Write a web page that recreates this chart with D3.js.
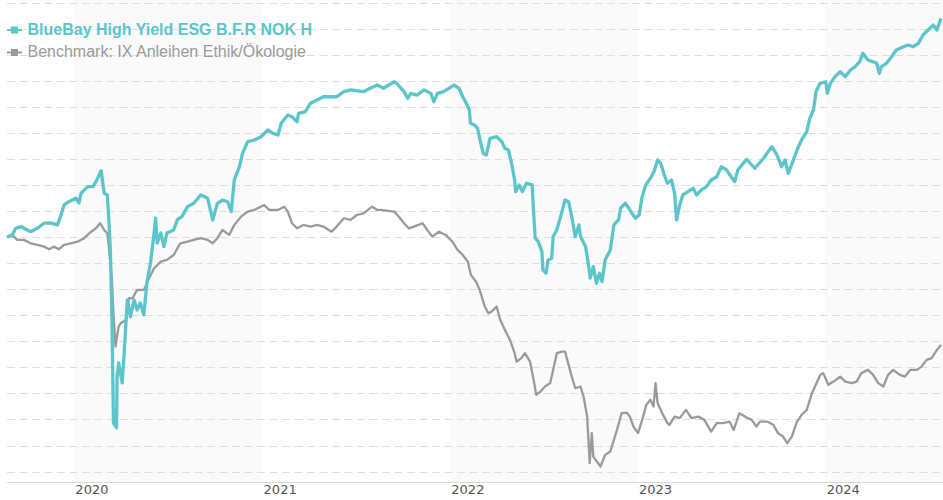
<!DOCTYPE html>
<html lang="de">
<head>
<meta charset="UTF-8">
<title>BlueBay High Yield ESG B.F.R NOK H</title>
<script src="https://d3js.org/d3.v7.min.js"></script>
<style>
  html, body { margin: 0; padding: 0; background: #fff; }
  svg { display: block; }
</style>
</head>
<body>
<svg id="chart" width="943" height="500"></svg>
<script>
// Wertentwicklung in % seit Start
var fundName = 'BlueBay High Yield ESG B.F.R NOK H';
var benchName = 'Benchmark: IX Anleihen Ethik/Ökologie';

var fundDates = [
"2019-08-24","2019-09-03","2019-09-10","2019-09-20","2019-09-29","2019-10-09","2019-10-22","2019-11-04","2019-11-17","2019-11-30",
"2019-12-06","2019-12-13","2019-12-22","2020-01-05","2020-01-11","2020-01-15","2020-01-28","2020-02-07","2020-02-13","2020-02-23",
"2020-02-29","2020-03-06","2020-03-09","2020-03-12","2020-03-15","2020-03-18","2020-03-24","2020-03-25","2020-03-28","2020-04-04",
"2020-04-07","2020-04-14","2020-04-20","2020-04-27","2020-05-03","2020-05-09","2020-05-16","2020-05-22","2020-05-29","2020-06-05",
"2020-06-08","2020-06-11","2020-06-18","2020-06-24","2020-06-30","2020-07-13","2020-07-20","2020-07-29","2020-08-09","2020-08-21",
"2020-09-04","2020-09-17","2020-09-27","2020-10-06","2020-10-16","2020-10-26","2020-11-02","2020-11-08","2020-11-18","2020-11-24",
"2020-12-04","2020-12-17","2020-12-30","2021-01-12","2021-01-22","2021-02-01","2021-02-07","2021-02-20","2021-02-28","2021-03-10",
"2021-03-13","2021-03-26","2021-04-05","2021-04-18","2021-04-30","2021-05-26","2021-06-09","2021-06-22","2021-07-17","2021-07-30",
"2021-08-13","2021-08-25","2021-09-15","2021-09-21","2021-10-04","2021-10-11","2021-10-17","2021-10-29","2021-11-12","2021-11-25",
"2021-12-01","2021-12-08","2021-12-20","2022-01-09","2022-01-19","2022-01-26","2022-02-02","2022-02-08","2022-02-10","2022-02-18",
"2022-02-24","2022-02-28","2022-03-07","2022-03-13","2022-03-20","2022-04-02","2022-04-12","2022-04-18","2022-04-25","2022-05-01",
"2022-05-07","2022-05-09","2022-05-16","2022-05-22","2022-05-30","2022-06-10","2022-06-13","2022-06-16","2022-06-22","2022-06-29",
"2022-07-01","2022-07-07","2022-07-11","2022-07-18","2022-07-21","2022-07-28","2022-08-07","2022-08-13","2022-08-20","2022-08-26",
"2022-09-02","2022-09-09","2022-09-12","2022-09-22","2022-09-28","2022-10-01","2022-10-07","2022-10-13","2022-10-19","2022-10-24",
"2022-10-30","2022-11-09","2022-11-16","2022-11-25","2022-11-29","2022-12-08","2022-12-15","2022-12-21","2022-12-28","2023-01-04",
"2023-01-10","2023-01-17","2023-01-26","2023-02-02","2023-02-09","2023-02-15","2023-02-22","2023-02-28","2023-03-08","2023-03-14",
"2023-03-18","2023-03-24","2023-03-30","2023-04-09","2023-04-19","2023-04-26","2023-05-05","2023-05-15","2023-05-24","2023-06-04",
"2023-06-13","2023-06-23","2023-07-02","2023-07-09","2023-07-15","2023-08-01","2023-08-17","2023-09-03","2023-09-19","2023-09-29",
"2023-10-08","2023-10-15","2023-10-21","2023-10-31","2023-11-07","2023-11-16","2023-11-26","2023-12-02","2023-12-09","2023-12-14",
"2023-12-22","2024-01-02","2024-01-05","2024-01-11","2024-01-20","2024-01-30","2024-02-09","2024-02-19","2024-02-28","2024-03-08",
"2024-03-14","2024-03-24","2024-04-03","2024-04-10","2024-04-15","2024-04-19","2024-04-29","2024-05-09","2024-05-18","2024-06-01",
"2024-06-10","2024-06-20","2024-06-30","2024-07-09","2024-07-19","2024-07-29","2024-08-05","2024-08-13"];

var fundValues = [
0, 0.17, 0.68, 0.81, 0.63, 0.42, 0.68, 1.07, 1.09, 0.94,
1.57, 2.47, 2.72, 2.99, 2.62, 3.37, 3.88, 3.88, 4.26, 5.10,
3.37, 3.24, 1.32, -0.98, -6.10, -14.26, -14.64, -10.71, -9.65, -11.19,
-9.42, -4.82, -6.10, -4.82, -5.59, -5.05, -5.97, -3.51, -1.98, 0.32,
1.45, -0.45, 0.32, -0.73, 0.32, 0.55, 1.32, 1.57, 2.34, 2.60,
3.24, 2.99, 1.32, 2.60, 2.85, 2.72, 1.96, 4.39, 5.41, 6.44,
7.33, 7.46, 7.71, 8.23, 7.97, 7.84, 8.74, 9.38, 9.25, 8.86,
9.51, 9.63, 10.28, 10.53, 10.78, 10.78, 11.17, 11.30, 11.17, 11.43,
11.68, 11.43, 11.93, 11.76, 11.17, 10.66, 11.04, 10.91, 11.30, 11.04,
10.40, 11.04, 11.17, 11.68, 11.43, 10.78, 10.28, 9.76, 8.74, 8.61,
8.36, 7.59, 6.44, 6.31, 7.59, 7.71, 7.33, 6.82, 6.69, 5.67,
4.39, 3.49, 4.01, 3.49, 4.14, 4.01, 1.83, -0.08, -0.35, -1.11,
-2.52, -2.77, -1.75, -1.62, 0.04, 0.55, 1.96, 2.85, 2.72, 1.57,
0.04, 0.94, 0.04, -0.73, -2.26, -3.15, -2.26, -3.54, -2.77, -3.42,
-1.75, -0.98, 0.94, 1.32, 2.22, 2.60, 2.22, 1.83, 1.45, 1.70,
3.11, 4.01, 4.52, 5.03, 5.92, 5.67, 4.77, 4.14, 4.39, 3.37,
1.32, 2.47, 3.24, 3.49, 3.75, 3.24, 3.62, 3.88, 4.39, 4.64,
5.41, 5.16, 4.64, 4.26, 5.16, 5.98, 5.29, 6.06, 6.95, 6.31,
5.41, 5.92, 4.90, 5.92, 6.69, 7.46, 8.10, 9.13, 9.76, 11.17,
11.81, 11.93, 11.04, 11.81, 12.32, 12.70, 12.32, 12.83, 13.09, 13.47,
14.11, 13.60, 13.47, 13.35, 12.58, 13.09, 13.35, 13.85, 14.37, 14.62,
14.75, 14.62, 14.88, 15.52, 15.90, 16.28, 15.90, 16.80];

var benchDates = [
"2019-08-24","2019-09-03","2019-09-13","2019-09-26","2019-10-09","2019-10-22","2019-11-04","2019-11-14","2019-11-23","2019-12-03",
"2019-12-13","2019-12-26","2020-01-08","2020-01-21","2020-01-31","2020-02-13","2020-02-21","2020-02-29","2020-03-06","2020-03-09",
"2020-03-15","2020-03-18","2020-03-22","2020-03-28","2020-04-01","2020-04-11","2020-04-17","2020-04-24","2020-05-03","2020-05-16",
"2020-05-25","2020-06-05","2020-06-18","2020-06-30","2020-07-13","2020-07-26","2020-08-09","2020-08-21","2020-09-04","2020-09-17",
"2020-09-27","2020-10-06","2020-10-16","2020-10-29","2020-11-08","2020-11-21","2020-12-04","2020-12-17","2021-01-05","2021-01-15",
"2021-02-01","2021-02-13","2021-02-20","2021-02-28","2021-03-10","2021-03-22","2021-04-05","2021-04-18","2021-04-30","2021-05-16",
"2021-05-26","2021-06-09","2021-06-22","2021-07-04","2021-07-17","2021-08-03","2021-08-13","2021-08-19","2021-09-15","2021-09-24",
"2021-10-04","2021-10-13","2021-10-23","2021-11-09","2021-11-18","2021-11-28","2021-12-11","2021-12-24","2022-01-06","2022-01-16",
"2022-01-26","2022-02-05","2022-02-11","2022-02-21","2022-02-28","2022-03-10","2022-03-17","2022-03-23","2022-04-02","2022-04-09",
"2022-04-18","2022-04-28","2022-05-07","2022-05-11","2022-05-20","2022-05-27","2022-06-06","2022-06-13","2022-06-18","2022-06-26",
"2022-07-05","2022-07-15","2022-07-21","2022-07-28","2022-08-07","2022-08-13","2022-08-20","2022-08-26","2022-09-02","2022-09-12",
"2022-09-18","2022-09-25","2022-09-30","2022-10-04","2022-10-07","2022-10-14","2022-10-21","2022-10-30","2022-11-09","2022-11-16",
"2022-11-22","2022-12-01","2022-12-11","2022-12-17","2022-12-24","2023-01-02","2023-01-10","2023-01-18","2023-01-26","2023-02-01",
"2023-02-05","2023-02-09","2023-02-18","2023-02-28","2023-03-04","2023-03-14","2023-03-24","2023-04-05","2023-04-16","2023-04-29",
"2023-05-11","2023-05-24","2023-06-04","2023-06-16","2023-06-29","2023-07-07","2023-07-18","2023-08-01","2023-08-11","2023-08-20",
"2023-08-27","2023-09-10","2023-09-22","2023-10-01","2023-10-11","2023-10-19","2023-10-28","2023-11-07","2023-11-16","2023-11-26",
"2023-12-06","2023-12-12","2023-12-22","2023-12-28","2024-01-07","2024-01-17","2024-01-30","2024-02-09","2024-02-22","2024-03-02",
"2024-03-11","2024-03-24","2024-04-03","2024-04-13","2024-04-23","2024-05-02","2024-05-12","2024-05-25","2024-06-04","2024-06-14",
"2024-06-27","2024-07-06","2024-07-16","2024-07-26","2024-08-05","2024-08-13"];

var benchValues = [
0, 0.17, -0.21, -0.21, -0.47, -0.60, -0.73, -0.93, -0.73, -0.93,
-0.60, -0.47, -0.35, -0.08, 0.30, 0.68, 1.07, 0.55, 0.30, -0.73,
-3.28, -5.84, -8.40, -6.87, -6.61, -6.35, -4.69, -4.69, -4.05, -4.05,
-3.28, -2.39, -1.88, -1.75, -1.37, -0.47, -0.35, -0.21, -0.08, -0.21,
-0.47, -0.08, 0.55, 0.17, 0.94, 1.57, 1.96, 2.09, 2.47, 2.09,
2.09, 2.34, 1.96, 1.07, 0.68, 0.94, 0.81, 0.94, 0.81, 0.42,
0.81, 1.45, 1.32, 1.70, 1.83, 2.34, 2.09, 2.09, 1.96, 1.57,
1.07, 0.68, 0.81, 1.07, 0.55, 0.04, 0.42, 0.17, -0.35, -0.98,
-1.37, -1.88, -2.90, -3.42, -4.05, -5.33, -5.84, -5.72, -5.33, -6.35,
-7.12, -7.89, -8.91, -9.56, -9.29, -8.91, -9.56, -10.96, -12.11, -11.86,
-11.47, -11.21, -10.19, -8.91, -8.79, -8.79, -9.81, -10.71, -11.60, -11.47,
-12.24, -13.78, -17.35, -15.05, -16.85, -17.23, -17.61, -16.72, -16.46, -15.56,
-14.80, -13.52, -13.47, -13.78, -14.54, -15.05, -14.03, -12.88, -12.49, -13.01,
-11.21, -12.75, -13.52, -14.28, -14.41, -13.78, -13.90, -13.26, -13.90, -13.78,
-14.03, -14.93, -14.28, -14.28, -14.16, -14.80, -13.52, -13.85, -14.03, -14.54,
-14.16, -14.16, -14.41, -15.05, -15.31, -15.82, -15.31, -14.16, -13.64, -13.26,
-11.98, -11.47, -10.58, -10.44, -11.34, -11.09, -10.71, -11.09, -11.21, -11.09,
-10.44, -10.19, -10.58, -11.21, -11.47, -10.58, -10.19, -10.58, -10.71, -10.19,
-10.19, -9.94, -9.42, -9.29, -8.66, -8.27];

var years = ['2020', '2021', '2022', '2023', '2024'];
var shadedYears = ['2020', '2022', '2024'];
var gridValues = d3.range(-18, 18.01, 2);

var width = 943;
var height = 500;
var plot = {left: 7, right: 943, top: 2.7, bottom: 482};

var fundColor = '#5cc5cc';
var benchColor = '#9a9a9a';

var parse = d3.timeParse('%Y-%m-%d');
var fund = fundDates.map(function (d, i) { return {date: parse(d), value: fundValues[i]}; });
var bench = benchDates.map(function (d, i) { return {date: parse(d), value: benchValues[i]}; });

var x = d3.scaleTime()
    .domain([parse('2019-08-24'), parse('2024-08-13')])
    .range([plot.left, 941]);

var y = d3.scaleLinear()
    .domain([-18.8, 18])
    .range([plot.bottom, plot.top]);

var svg = d3.select('#chart');

// Jahresbaender
svg.append('g').selectAll('rect')
    .data(shadedYears)
    .enter()
    .append('rect')
    .attr('x', function (d) { return x(parse(d + '-01-01')); })
    .attr('y', 0)
    .attr('width', function (d) {
        var x0 = x(parse(d + '-01-01'));
        var x1 = Math.min(x(parse((+d + 1) + '-01-01')), plot.right);
        return x1 - x0;
    })
    .attr('height', plot.bottom)
    .attr('fill', '#fafafa');

// Gitterlinien
svg.append('g').selectAll('line')
    .data(gridValues)
    .enter()
    .append('line')
    .attr('x1', plot.left)
    .attr('x2', plot.right)
    .attr('y1', function (d) { return Math.round(y(d)) + 0.5; })
    .attr('y2', function (d) { return Math.round(y(d)) + 0.5; })
    .attr('stroke', '#dedede')
    .attr('stroke-width', 1)
    .attr('stroke-dasharray', '8,4.5');

// x-Achse
var axis = svg.append('g')
    .attr('transform', 'translate(0,' + plot.bottom + ')')
    .call(d3.axisBottom(x)
        .tickValues(years.map(function (d) { return parse(d + '-01-01'); }))
        .tickFormat(d3.timeFormat('%Y'))
        .tickSize(0)
        .tickPadding(3));

axis.select('.domain').remove();
axis.selectAll('text')
    .attr('text-anchor', 'start')
    .attr('dx', 1)
    .attr('fill', '#555')
    .style('font-family', '"DejaVu Sans", Verdana, sans-serif')
    .style('font-size', '13px');

axis.append('line')
    .attr('x1', plot.left)
    .attr('x2', plot.right)
    .attr('y1', 0.5)
    .attr('y2', 0.5)
    .attr('stroke', '#d8d8d8');

// Linien
var line = d3.line()
    .x(function (d) { return x(d.date); })
    .y(function (d) { return y(d.value); });

svg.append('path')
    .datum(bench)
    .attr('d', line)
    .attr('fill', 'none')
    .attr('stroke', benchColor)
    .attr('stroke-width', 2.3)
    .attr('stroke-linejoin', 'round');

svg.append('path')
    .datum(fund)
    .attr('d', line)
    .attr('fill', 'none')
    .attr('stroke', fundColor)
    .attr('stroke-width', 3.3)
    .attr('stroke-linejoin', 'round');

// Legende
var legend = [
    {name: fundName, color: fundColor, cy: 30, base: 35, weight: 'bold'},
    {name: benchName, color: benchColor, cy: 52.5, base: 57, weight: 'normal'}
];

var lg = svg.append('g').selectAll('g')
    .data(legend)
    .enter()
    .append('g');

lg.append('line')
    .attr('x1', 7)
    .attr('x2', 22)
    .attr('y1', function (d) { return d.cy; })
    .attr('y2', function (d) { return d.cy; })
    .attr('stroke', function (d) { return d.color; })
    .attr('stroke-width', 2);

lg.append('rect')
    .attr('x', 11)
    .attr('y', function (d) { return d.cy - 3.5; })
    .attr('width', 7)
    .attr('height', 7)
    .attr('fill', function (d) { return d.color; });

lg.append('text')
    .attr('x', 27.5)
    .attr('y', function (d) { return d.base; })
    .attr('fill', function (d) { return d.color; })
    .style('font-family', '"Liberation Sans", Arial, sans-serif')
    .style('font-size', '16px')
    .style('font-weight', function (d) { return d.weight; })
    .text(function (d) { return d.name; });
</script>
</body>
</html>
